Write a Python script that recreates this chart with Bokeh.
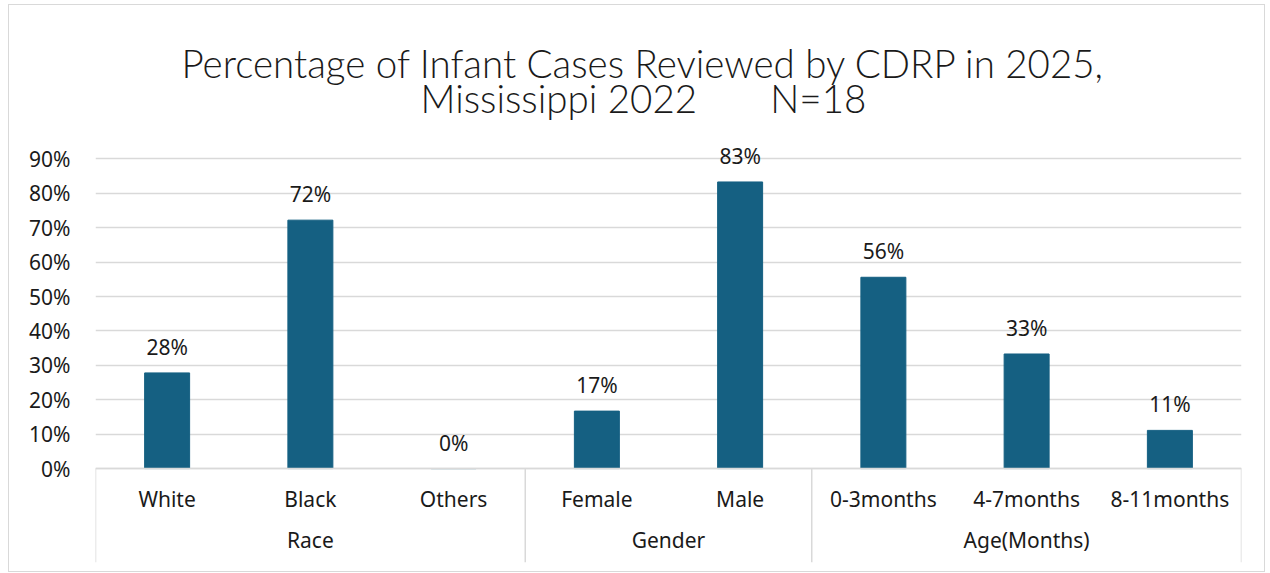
from bokeh.plotting import figure
from bokeh.models import (FactorRange, FixedTicker, NumeralTickFormatter, Title,
                          ColumnDataSource)
from bokeh.core.properties import value
from bokeh.embed import file_html
from bokeh.resources import INLINE

# ---- data ----
groups = ["Race", "Race", "Race", "Gender", "Gender", "Age(Months)", "Age(Months)", "Age(Months)"]
categories = ["White", "Black", "Others", "Female", "Male", "0-3months", "4-7months", "8-11months"]
percent = [0.278, 0.722, 0.0, 0.167, 0.833, 0.556, 0.333, 0.111]
y_ticks = [0, 0.1, 0.2, 0.3, 0.4, 0.5, 0.6, 0.7, 0.8, 0.9]
title_line1 = "Percentage of Infant Cases Reviewed by CDRP in 2025,"
title_line2 = "Mississippi 2022" + "\u00a0" * 7 + "N=18"

FONT = "Noto Sans"
TXT = "#1a1a1a"

factors = list(zip(groups, categories))
labels = ["{:.0f}%".format(v * 100) for v in percent]
src = ColumnDataSource(dict(x=factors, top=percent, label=labels))

xr = FactorRange(*factors, range_padding=0, group_padding=0, factor_padding=0,
                 subgroup_padding=0)

p = figure(width=1257, height=568, x_range=xr, y_range=(-0.273, 1.0),
           output_backend="svg", toolbar_location=None,
           min_border_left=86, min_border_right=25, min_border_bottom=11,
           min_border_top=119)
p.styles = {"border": "1px solid #d9d9d9", "margin-left": "8px", "margin-top": "4px"}
p.outline_line_color = None
p.background_fill_color = "white"
p.border_fill_color = "white"

p.title = None
t2 = Title(text=title_line2, align="left", text_font="Lato Light",
           text_font_size="38.5px", text_font_style="normal", text_color=TXT,
           standoff=8, offset=325)
t1 = Title(text=title_line1, align="left", text_font="Lato Light",
           text_font_size="38.5px", text_font_style="normal", text_color=TXT,
           standoff=-34, offset=86)
p.add_layout(t2, "above")
p.add_layout(t1, "above")

p.vbar(x="x", top="top", width=0.314, source=src, color="#156082")
p.text(x="x", y="top", text="label", source=src, text_align="center",
       text_baseline="bottom", y_offset=-12, text_font=value(FONT),
       text_font_size="21px", text_color=TXT)

# group separators (at group boundaries in the factor range)
bounds = [0]
for i in range(1, len(groups)):
    if groups[i] != groups[i - 1]:
        bounds.append(i)
bounds.append(len(groups))
p.segment(x0=bounds, y0=[0] * len(bounds), x1=bounds, y1=[-0.273] * len(bounds),
          line_color="#d9d9d9", line_width=1.5)

# x axis
xa = p.xaxis[0]
xa.fixed_location = 0
xa.axis_line_color = "#d9d9d9"
xa.axis_line_width = 1.5
xa.major_tick_line_color = None
xa.minor_tick_line_color = None
xa.major_label_text_font = FONT
xa.major_label_text_font_size = "21px"
xa.major_label_text_color = TXT
xa.major_label_standoff = 10
xa.group_text_font = FONT
xa.group_text_font_size = "21px"
xa.group_text_color = TXT
xa.group_text_font_style = "normal"
xa.separator_line_color = None

# y axis
ya = p.yaxis[0]
ya.ticker = FixedTicker(ticks=y_ticks)
ya.formatter = NumeralTickFormatter(format="0%")
ya.axis_line_color = None
ya.major_tick_line_color = None
ya.minor_tick_line_color = None
ya.major_label_text_font = FONT
ya.major_label_text_font_size = "21px"
ya.major_label_text_color = TXT
ya.major_label_standoff = 19

p.xgrid.grid_line_color = None
p.ygrid.ticker = FixedTicker(ticks=y_ticks)
p.ygrid.grid_line_color = "#d9d9d9"
p.ygrid.grid_line_width = 1.5

open("out.html", "w").write(file_html(p, INLINE))
